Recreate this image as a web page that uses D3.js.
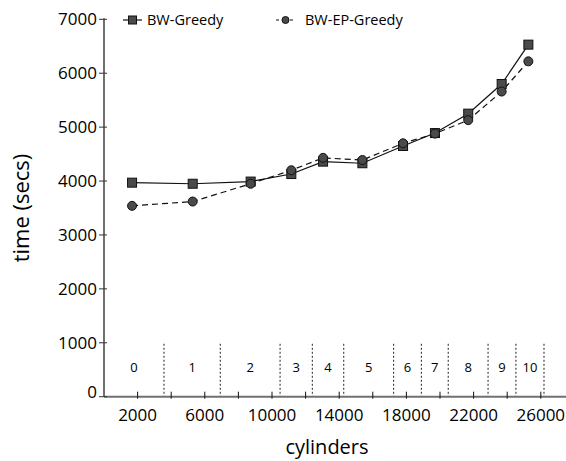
<!DOCTYPE html>
<html><head><meta charset="utf-8">
<script src="https://cdn.jsdelivr.net/npm/d3@7"></script>
<style>body{margin:0;background:#fff}svg{display:block}text{font-family:"Open Sans",sans-serif;fill:#000}</style>
</head><body><svg id="c" width="566" height="461"></svg>
<script>
const cylinders = [1670, 5280, 8730, 11150, 13040, 15380, 17800, 19700, 21680, 23670, 25260];
const bwGreedy = [3970, 3950, 3990, 4130, 4360, 4330, 4650, 4890, 5250, 5800, 6530];
const bwEpGreedy = [3540, 3620, 3950, 4200, 4430, 4390, 4700, 4880, 5130, 5660, 6220];
const regionBounds = [0, 3570, 6920, 10480, 12400, 14270, 17240, 18890, 20490, 22860, 24520, 26190];
const regionLabels = ["0","1","2","3","4","5","6","7","8","9","10"];
const yTicks = [0,1000,2000,3000,4000,5000,6000,7000];
const xTicks = [2000,4000,6000,8000,10000,12000,14000,16000,18000,20000,22000,24000,26000];
const xTickLabels = [2000,6000,10000,14000,18000,22000,26000];
const seriesNames = ["BW-Greedy","BW-EP-Greedy"];

const svg = d3.select("#c");
const x = d3.scaleLinear().domain([0,27500]).range([104,566]);
const y = d3.scaleLinear().domain([0,7000]).range([396.7,19.3]);
const axisCol = "#707070";

// region dashed separators
svg.append("g").selectAll("line").data(regionBounds.slice(1)).join("line")
  .attr("x1",d=>x(d)).attr("x2",d=>x(d)).attr("y1",y(1000)+1).attr("y2",y(0))
  .attr("stroke","#222").attr("stroke-width",1).attr("stroke-dasharray","2,2");
svg.append("g").selectAll("text").data(regionLabels).join("text")
  .attr("x",(d,i)=>(x(regionBounds[i])+x(regionBounds[i+1]))/2)
  .attr("y",372).attr("text-anchor","middle").attr("font-size",13).text(d=>d);

// axes
svg.append("line").attr("x1",x(0)).attr("x2",566).attr("y1",y(0)).attr("y2",y(0)).attr("stroke",axisCol).attr("stroke-width",2);
svg.append("line").attr("x1",x(0)).attr("x2",x(0)).attr("y1",y(0)).attr("y2",y(7000)-1).attr("stroke",axisCol).attr("stroke-width",2);
svg.append("g").selectAll("line").data(yTicks).join("line")
  .attr("x1",x(0)-5).attr("x2",x(0)+3).attr("y1",d=>y(d)).attr("y2",d=>y(d)).attr("stroke","#333").attr("stroke-width",1);
svg.append("g").selectAll("text").data(yTicks).join("text")
  .attr("x",97).attr("y",d=>y(d)+6 - (d===0?5:0)).attr("text-anchor","end").attr("font-size",17).text(d=>d);
svg.append("g").selectAll("line").data(xTicks).join("line")
  .attr("x1",d=>x(d)).attr("x2",d=>x(d)).attr("y1",y(0)-5).attr("y2",y(0)+2).attr("stroke","#111").attr("stroke-width",1);
svg.append("g").selectAll("text").data(xTickLabels).join("text")
  .attr("x",d=>x(d)).attr("y",421).attr("text-anchor","middle").attr("font-size",17).text(d=>d);

svg.append("text").attr("transform","translate(29,208) rotate(-90)").attr("text-anchor","middle").attr("font-size",22).text("time (secs)");
svg.append("text").attr("x",327).attr("y",454).attr("text-anchor","middle").attr("font-size",20).text("cylinders");

// lines
const line = d3.line().x((d,i)=>x(cylinders[i])).y(d=>y(d));
svg.append("path").datum(bwEpGreedy).attr("d",line).attr("fill","none").attr("stroke","#111").attr("stroke-width",1.2).attr("stroke-dasharray","6,4");
svg.append("path").datum(bwGreedy).attr("d",line).attr("fill","none").attr("stroke","#111").attr("stroke-width",1.2);

const mfill = "#4a4a4a";
svg.append("g").selectAll("rect").data(bwGreedy).join("rect")
  .attr("x",(d,i)=>x(cylinders[i])-4.5).attr("y",d=>y(d)-4.5).attr("width",9).attr("height",9)
  .attr("fill",mfill).attr("stroke","#111").attr("stroke-width",1);
svg.append("g").selectAll("circle").data(bwEpGreedy).join("circle")
  .attr("cx",(d,i)=>x(cylinders[i])).attr("cy",d=>y(d)).attr("r",4.5)
  .attr("fill",mfill).attr("stroke","#111").attr("stroke-width",1);

// legend
const lg = svg.append("g");
lg.append("line").attr("x1",123).attr("x2",142).attr("y1",20).attr("y2",20).attr("stroke","#111").attr("stroke-width",1.2);
lg.append("rect").attr("x",128.5).attr("y",16).attr("width",8).attr("height",8).attr("fill",mfill).attr("stroke","#111");
lg.append("text").attr("x",147).attr("y",25).attr("font-size",14.5).text(seriesNames[0]);
lg.append("line").attr("x1",276).attr("x2",295).attr("y1",20).attr("y2",20).attr("stroke","#111").attr("stroke-width",1.2).attr("stroke-dasharray","3,4");
lg.append("circle").attr("cx",285.5).attr("cy",20).attr("r",3.5).attr("fill",mfill).attr("stroke","#111");
lg.append("text").attr("x",305).attr("y",25).attr("font-size",14.5).text(seriesNames[1]);
</script></body></html>
